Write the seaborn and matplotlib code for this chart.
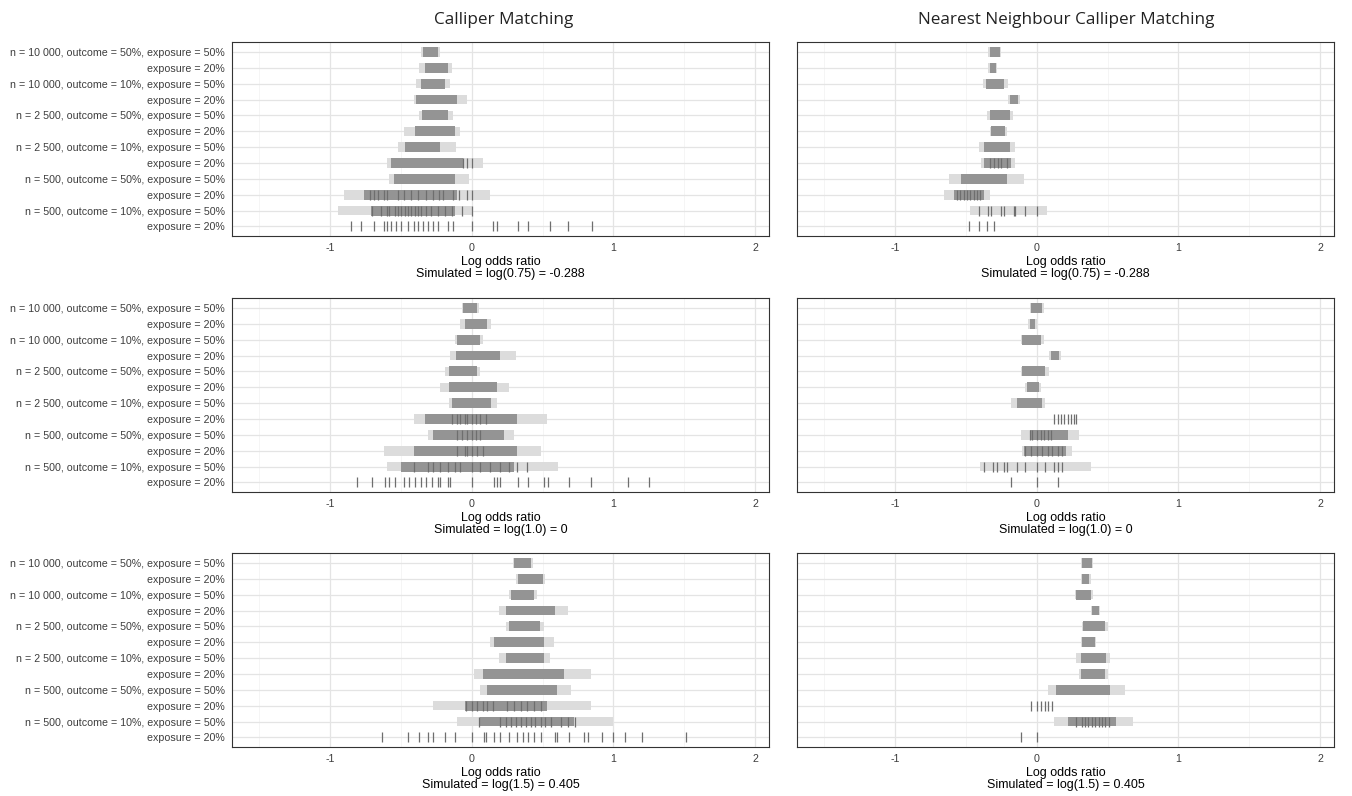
import pandas as pd
import matplotlib
matplotlib.use('Agg')
import matplotlib.pyplot as plt
import seaborn as sns

# Rows of every panel, top to bottom
row_labels = [
    'n = 10 000, outcome = 50%, exposure = 50%', 'exposure = 20%',
    'n = 10 000, outcome = 10%, exposure = 50%', 'exposure = 20%',
    'n = 2 500, outcome = 50%, exposure = 50%', 'exposure = 20%',
    'n = 2 500, outcome = 10%, exposure = 50%', 'exposure = 20%',
    'n = 500, outcome = 50%, exposure = 50%', 'exposure = 20%',
    'n = 500, outcome = 10%, exposure = 50%', 'exposure = 20%',
]
methods = ['Calliper Matching', 'Nearest Neighbour Calliper Matching']
simulated = ['Simulated = log(0.75) = -0.288', 'Simulated = log(1.0) = 0',
             'Simulated = log(1.5) = 0.405']

# Estimated log odds ratios:
# core = dense part of each row, tail = sparse part, ticks = repeated discrete values
cm_075_core = [(-0.345, -0.24), (-0.33, -0.17), (-0.36, -0.19), (-0.39, -0.10), (-0.35, -0.17), (-0.40, -0.12),
               (-0.47, -0.22), (-0.57, -0.06), (-0.55, -0.12), (-0.76, -0.10), (-0.71, -0.12), None]
cm_075_tail = [(-0.36, -0.22), (-0.37, -0.14), (-0.39, -0.15), (-0.41, -0.03), (-0.37, -0.13), (-0.48, -0.08),
               (-0.52, -0.11), (-0.60, 0.08), (-0.58, -0.02), (-0.90, 0.13), (-0.94, 0.01), None]
cm_075_ticks = {
    7: [-0.06, -0.03, 0.0],
    9: [-0.72, -0.69, -0.66, -0.62, -0.60, -0.52, -0.48, -0.43, -0.38, -0.32, -0.27, -0.23, -0.20, -0.13,
        -0.09, -0.03, 0.0],
    10: [-0.70, -0.64, -0.60, -0.58, -0.54, -0.52, -0.50, -0.47, -0.45, -0.43, -0.40, -0.38, -0.36, -0.32,
         -0.29, -0.24, -0.19, -0.14, -0.07, 0.0],
    11: [-0.85, -0.78, -0.69, -0.62, -0.60, -0.57, -0.53, -0.50, -0.45, -0.41, -0.38, -0.34, -0.31, -0.27,
         -0.24, -0.17, -0.13, 0.0, 0.15, 0.18, 0.33, 0.40, 0.55, 0.68, 0.85],
}

nn_075_core = [(-0.33, -0.26), (-0.33, -0.29), (-0.36, -0.23), (-0.19, -0.13), (-0.33, -0.19), (-0.32, -0.22),
               (-0.37, -0.19), (-0.37, -0.18), (-0.53, -0.21), (-0.58, -0.37), None, None]
nn_075_tail = [(-0.34, -0.25), (-0.34, -0.28), (-0.38, -0.20), (-0.20, -0.12), (-0.35, -0.17), (-0.33, -0.21),
               (-0.41, -0.15), (-0.39, -0.15), (-0.62, -0.09), (-0.65, -0.33), (-0.47, 0.07), None]
nn_075_ticks = {
    7: [-0.33, -0.30, -0.27, -0.25, -0.21],
    9: [-0.56, -0.54, -0.51, -0.49, -0.47, -0.44, -0.42, -0.40],
    10: [-0.41, -0.34, -0.32, -0.25, -0.23, -0.16, -0.15, -0.08, 0.0],
    11: [-0.48, -0.41, -0.35, -0.30],
}

cm_100_core = [(-0.06, 0.04), (-0.05, 0.11), (-0.10, 0.06), (-0.11, 0.20), (-0.16, 0.04), (-0.16, 0.18),
               (-0.14, 0.14), (-0.33, 0.32), (-0.27, 0.23), (-0.41, 0.32), (-0.50, 0.30), None]
cm_100_tail = [(-0.07, 0.05), (-0.08, 0.14), (-0.12, 0.08), (-0.15, 0.31), (-0.19, 0.06), (-0.22, 0.26),
               (-0.16, 0.18), (-0.41, 0.53), (-0.31, 0.30), (-0.62, 0.49), (-0.60, 0.61), None]
cm_100_ticks = {
    7: [-0.14, -0.10, -0.08, -0.05, -0.03, 0.0, 0.03, 0.06, 0.10],
    8: [-0.10, -0.07, -0.03, 0.0, 0.03, 0.06],
    9: [-0.10, -0.05, -0.03, 0.0, 0.04, 0.08],
    10: [-0.41, -0.31, -0.27, -0.22, -0.17, -0.12, -0.08, 0.0, 0.06, 0.13, 0.20, 0.26, 0.32, 0.39],
    11: [-0.81, -0.70, -0.61, -0.58, -0.54, -0.48, -0.44, -0.40, -0.36, -0.32, -0.28, -0.24, -0.22, -0.17,
         -0.15, 0.0, 0.16, 0.18, 0.20, 0.33, 0.40, 0.51, 0.54, 0.69, 0.84, 1.10, 1.25],
}

nn_100_core = [(-0.04, 0.04), (-0.05, -0.01), (-0.10, 0.03), (0.10, 0.16), (-0.10, 0.06), (-0.07, 0.02),
               (-0.14, 0.04), None, (-0.05, 0.22), (-0.09, 0.21), None, None]
nn_100_tail = [(-0.05, 0.05), (-0.06, 0.0), (-0.11, 0.05), (0.09, 0.17), (-0.11, 0.09), (-0.08, 0.03),
               (-0.18, 0.06), None, (-0.11, 0.30), (-0.10, 0.25), (-0.40, 0.38), None]
nn_100_ticks = {
    7: [0.12, 0.15, 0.17, 0.19, 0.22, 0.24, 0.26, 0.28],
    8: [-0.05, -0.03, 0.0, 0.03, 0.05, 0.08, 0.10],
    9: [-0.08, -0.04, 0.0, 0.04, 0.08, 0.11, 0.15, 0.18],
    10: [-0.37, -0.31, -0.28, -0.23, -0.21, -0.14, -0.08, 0.0, 0.06, 0.12, 0.15, 0.18],
    11: [-0.18, 0.0, 0.15],
}

cm_150_core = [(0.30, 0.42), (0.33, 0.50), (0.28, 0.44), (0.24, 0.59), (0.26, 0.48), (0.16, 0.51),
               (0.24, 0.51), (0.08, 0.65), (0.11, 0.60), (-0.05, 0.53), (0.06, 0.72), None]
cm_150_tail = [(0.29, 0.43), (0.31, 0.52), (0.26, 0.46), (0.19, 0.68), (0.24, 0.51), (0.13, 0.58),
               (0.19, 0.55), (0.02, 0.84), (0.06, 0.70), (-0.27, 0.84), (-0.10, 1.00), None]
cm_150_ticks = {
    9: [-0.04, 0.0, 0.04, 0.08, 0.11, 0.15, 0.25, 0.30, 0.35, 0.39, 0.44, 0.49],
    10: [0.05, 0.20, 0.24, 0.28, 0.31, 0.35, 0.38, 0.42, 0.45, 0.49, 0.52, 0.56, 0.63, 0.68, 0.73],
    11: [-0.63, -0.45, -0.37, -0.31, -0.27, -0.19, -0.12, 0.0, 0.09, 0.10, 0.16, 0.20, 0.26, 0.32, 0.36,
         0.40, 0.44, 0.49, 0.59, 0.60, 0.69, 0.79, 0.82, 0.92, 1.0, 1.08, 1.20, 1.51],
}

nn_150_core = [(0.32, 0.39), (0.32, 0.37), (0.28, 0.38), (0.39, 0.44), (0.33, 0.48), (0.32, 0.41),
               (0.31, 0.49), (0.31, 0.48), (0.14, 0.52), None, (0.22, 0.56), None]
nn_150_tail = [(0.31, 0.40), (0.31, 0.38), (0.27, 0.40), (0.38, 0.45), (0.32, 0.50), (0.31, 0.42),
               (0.28, 0.52), (0.30, 0.50), (0.08, 0.62), None, (0.12, 0.68), None]
nn_150_ticks = {
    9: [-0.04, 0.0, 0.03, 0.06, 0.08, 0.11],
    10: [0.28, 0.32, 0.34, 0.36, 0.39, 0.41, 0.44, 0.46, 0.48, 0.51],
    11: [-0.11, 0.0],
}

panels = [
    [(cm_075_core, cm_075_tail, cm_075_ticks), (nn_075_core, nn_075_tail, nn_075_ticks)],
    [(cm_100_core, cm_100_tail, cm_100_ticks), (nn_100_core, nn_100_tail, nn_100_ticks)],
    [(cm_150_core, cm_150_tail, cm_150_ticks), (nn_150_core, nn_150_tail, nn_150_ticks)],
]


def draw_panel(ax, core, tail, ticks):
    rows = list(range(len(row_labels)))
    for spans, colour, height in [(tail, '#dcdcdc', 0.6), (core, '#949494', 0.62)]:
        keep = [(r, s) for r, s in zip(rows, spans) if s is not None]
        ax.barh([r for r, _ in keep], [s[1] - s[0] for _, s in keep], left=[s[0] for _, s in keep],
                height=height, color=colour, linewidth=0, zorder=2)
    tick_df = pd.DataFrame([(x, r) for r, xs in ticks.items() for x in xs], columns=['x', 'row'])
    sns.scatterplot(data=tick_df, x='x', y='row', marker='|', s=60, linewidth=0.9,
                    color='#6e6e6e', ax=ax, zorder=3, legend=False)


sns.set_style('white')
plt.rcParams['font.family'] = ['Liberation Sans', 'DejaVu Sans']

fig = plt.figure(figsize=(13.52, 7.96), dpi=100)
lefts = [0.1716, 0.5895]
width = 0.3975
bottoms = [0.7035, 0.3819, 0.0616]
height = 0.2432

for i, sim in enumerate(simulated):
    for j, method in enumerate(methods):
        ax = fig.add_axes([lefts[j], bottoms[i], width, height])
        core, tail, ticks = panels[i][j]
        draw_panel(ax, core, tail, ticks)
        ax.set_xlim(-1.69, 2.10)
        ax.set_ylim(11.6, -0.6)
        ax.set_xticks([-1, 0, 1, 2])
        ax.set_xticklabels(['-1', '0', '1', '2'])
        ax.set_xticks([-1.5, -0.5, 0.5, 1.5], minor=True)
        ax.set_yticks(range(len(row_labels)))
        if j == 0:
            ax.set_yticklabels(row_labels)
        else:
            ax.set_yticklabels([])
        ax.set_axisbelow(True)
        ax.grid(which='major', axis='both', color='#e4e4e4', linewidth=0.9, zorder=0)
        ax.grid(which='minor', axis='x', color='#f1f1f1', linewidth=0.5, zorder=0)
        ax.tick_params(axis='both', which='major', length=3, width=0.7, color='#333333',
                       labelsize=7.7, labelcolor='#3d3d3d', pad=2)
        ax.tick_params(axis='x', which='minor', length=0)
        for sp in ax.spines.values():
            sp.set_color('#333333')
            sp.set_linewidth(0.8)
        ax.set_xlabel('Log odds ratio\n' + sim, fontsize=9, color='black', labelpad=2, linespacing=1.05)
        ax.set_ylabel('')

fig.text(0.3724, 0.975, methods[0], ha='center', va='center', fontsize=12.3, family='Open Sans', color='#222222')
fig.text(0.789, 0.975, methods[1], ha='center', va='center', fontsize=12.3, family='Open Sans', color='#222222')

fig.savefig('out.png', dpi=100)
